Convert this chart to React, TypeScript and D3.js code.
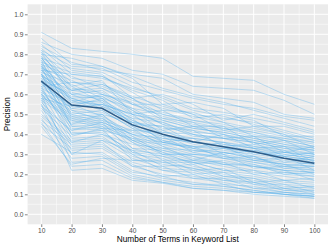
import React, { useRef, useEffect } from 'react';
import * as d3 from 'd3';

// number of terms in the keyword list (x positions)
const termCounts = [10, 20, 30, 40, 50, 60, 70, 80, 90, 100];
const yTicks = [0, 0.1, 0.2, 0.3, 0.4, 0.5, 0.6, 0.7, 0.8, 0.9, 1.0];

// average precision over all keyword lists
const meanPrecision = [0.666, 0.546, 0.53, 0.447, 0.4, 0.363, 0.338, 0.313, 0.28, 0.255];

// precision per keyword list (one array per list)
const precisionHigh = [
  [0.91, 0.83, 0.815, 0.8, 0.78, 0.69, 0.68, 0.67, 0.6, 0.55],
  [0.86, 0.8, 0.78, 0.72, 0.7, 0.64, 0.63, 0.62, 0.57, 0.5],
  [0.84, 0.76, 0.72, 0.7, 0.68, 0.6, 0.58, 0.56, 0.5, 0.48],
  [0.82, 0.74, 0.73, 0.66, 0.62, 0.58, 0.55, 0.53, 0.49, 0.47],
  [0.85, 0.72, 0.7, 0.58, 0.6, 0.55, 0.47, 0.5, 0.46, 0.42],
  [0.8, 0.78, 0.74, 0.68, 0.55, 0.56, 0.53, 0.44, 0.44, 0.4],
  [0.83, 0.7, 0.69, 0.62, 0.57, 0.48, 0.5, 0.47, 0.39, 0.39],
  [0.78, 0.73, 0.71, 0.64, 0.58, 0.52, 0.49, 0.45, 0.41, 0.37],
  [0.81, 0.68, 0.66, 0.55, 0.55, 0.5, 0.42, 0.44, 0.4, 0.33],
  [0.76, 0.71, 0.69, 0.61, 0.52, 0.51, 0.46, 0.39, 0.38, 0.35],
];

const precisionUpper = [
  [0.79, 0.66, 0.64, 0.58, 0.5, 0.47, 0.44, 0.41, 0.38, 0.36],
  [0.77, 0.64, 0.67, 0.5, 0.52, 0.44, 0.44, 0.35, 0.37, 0.3],
  [0.75, 0.69, 0.63, 0.55, 0.49, 0.45, 0.43, 0.4, 0.37, 0.34],
  [0.74, 0.62, 0.65, 0.58, 0.48, 0.46, 0.38, 0.39, 0.31, 0.34],
  [0.73, 0.67, 0.6, 0.56, 0.47, 0.43, 0.41, 0.38, 0.35, 0.33],
  [0.72, 0.6, 0.62, 0.52, 0.42, 0.44, 0.4, 0.33, 0.34, 0.26],
  [0.8, 0.63, 0.61, 0.53, 0.45, 0.42, 0.39, 0.37, 0.34, 0.32],
  [0.71, 0.65, 0.58, 0.45, 0.44, 0.36, 0.4, 0.36, 0.33, 0.32],
  [0.7, 0.58, 0.59, 0.5, 0.46, 0.4, 0.38, 0.36, 0.29, 0.31],
  [0.78, 0.61, 0.57, 0.49, 0.43, 0.42, 0.34, 0.35, 0.32, 0.25],
  [0.69, 0.62, 0.6, 0.52, 0.45, 0.39, 0.38, 0.34, 0.32, 0.3],
  [0.74, 0.57, 0.56, 0.48, 0.36, 0.38, 0.36, 0.3, 0.31, 0.3],
  [0.68, 0.59, 0.58, 0.47, 0.41, 0.4, 0.35, 0.33, 0.31, 0.29],
  [0.76, 0.56, 0.55, 0.5, 0.4, 0.33, 0.36, 0.33, 0.26, 0.29],
  [0.67, 0.6, 0.54, 0.46, 0.42, 0.36, 0.34, 0.32, 0.3, 0.28],
  [0.72, 0.55, 0.57, 0.45, 0.39, 0.38, 0.3, 0.32, 0.29, 0.22],
  [0.66, 0.58, 0.53, 0.47, 0.4, 0.35, 0.33, 0.31, 0.29, 0.27],
  [0.82, 0.64, 0.56, 0.44, 0.38, 0.36, 0.34, 0.27, 0.28, 0.27],
  [0.65, 0.54, 0.55, 0.46, 0.37, 0.34, 0.32, 0.3, 0.28, 0.26],
  [0.7, 0.57, 0.52, 0.43, 0.39, 0.31, 0.33, 0.29, 0.24, 0.26],
];

const precisionMid = [
  [0.64, 0.53, 0.51, 0.44, 0.36, 0.33, 0.31, 0.28, 0.26, 0.25],
  [0.79, 0.52, 0.5, 0.37, 0.35, 0.34, 0.28, 0.29, 0.23, 0.24],
  [0.63, 0.55, 0.49, 0.41, 0.37, 0.32, 0.3, 0.27, 0.25, 0.24],
  [0.75, 0.5, 0.52, 0.43, 0.34, 0.27, 0.31, 0.28, 0.25, 0.2],
  [0.62, 0.51, 0.48, 0.4, 0.36, 0.33, 0.29, 0.26, 0.24, 0.23],
  [0.73, 0.49, 0.5, 0.39, 0.3, 0.3, 0.3, 0.23, 0.24, 0.22],
  [0.61, 0.52, 0.47, 0.42, 0.35, 0.31, 0.28, 0.26, 0.23, 0.22],
  [0.77, 0.48, 0.49, 0.33, 0.32, 0.29, 0.25, 0.25, 0.2, 0.21],
  [0.6, 0.5, 0.46, 0.4, 0.34, 0.3, 0.28, 0.25, 0.22, 0.21],
  [0.71, 0.47, 0.48, 0.37, 0.31, 0.25, 0.27, 0.24, 0.22, 0.17],
  [0.59, 0.49, 0.45, 0.39, 0.33, 0.29, 0.26, 0.24, 0.21, 0.2],
  [0.68, 0.46, 0.47, 0.36, 0.27, 0.27, 0.26, 0.2, 0.21, 0.19],
  [0.58, 0.48, 0.44, 0.38, 0.32, 0.28, 0.25, 0.22, 0.2, 0.19],
  [0.66, 0.45, 0.46, 0.31, 0.29, 0.26, 0.22, 0.22, 0.17, 0.18],
  [0.57, 0.47, 0.43, 0.37, 0.31, 0.27, 0.24, 0.21, 0.19, 0.17],
];

const precisionLow = [
  [0.74, 0.44, 0.45, 0.36, 0.3, 0.26, 0.22, 0.2, 0.17, 0.16],
  [0.62, 0.43, 0.42, 0.3, 0.28, 0.22, 0.23, 0.16, 0.17, 0.13],
  [0.7, 0.42, 0.44, 0.33, 0.29, 0.24, 0.21, 0.19, 0.16, 0.15],
  [0.56, 0.41, 0.4, 0.32, 0.24, 0.25, 0.19, 0.18, 0.13, 0.14],
  [0.67, 0.4, 0.41, 0.31, 0.26, 0.23, 0.2, 0.18, 0.15, 0.14],
  [0.53, 0.39, 0.43, 0.27, 0.27, 0.2, 0.21, 0.15, 0.15, 0.11],
  [0.64, 0.38, 0.39, 0.29, 0.25, 0.23, 0.19, 0.17, 0.14, 0.13],
  [0.5, 0.37, 0.38, 0.3, 0.22, 0.21, 0.17, 0.16, 0.12, 0.12],
  [0.61, 0.36, 0.37, 0.28, 0.23, 0.22, 0.18, 0.16, 0.13, 0.12],
  [0.47, 0.35, 0.36, 0.24, 0.24, 0.18, 0.18, 0.13, 0.13, 0.1],
  [0.58, 0.34, 0.35, 0.26, 0.22, 0.19, 0.17, 0.15, 0.12, 0.11],
  [0.45, 0.33, 0.34, 0.25, 0.19, 0.2, 0.15, 0.14, 0.11, 0.1],
  [0.55, 0.32, 0.33, 0.24, 0.2, 0.18, 0.16, 0.13, 0.11, 0.1],
  [0.4, 0.31, 0.3, 0.21, 0.19, 0.15, 0.15, 0.11, 0.11, 0.09],
  [0.52, 0.3, 0.31, 0.22, 0.18, 0.16, 0.14, 0.12, 0.1, 0.09],
  [0.48, 0.28, 0.29, 0.2, 0.17, 0.15, 0.14, 0.12, 0.1, 0.09],
  [0.6, 0.26, 0.27, 0.19, 0.16, 0.14, 0.13, 0.11, 0.1, 0.08],
  [0.46, 0.24, 0.25, 0.18, 0.16, 0.13, 0.12, 0.11, 0.1, 0.09],
  [0.55, 0.22, 0.23, 0.17, 0.155, 0.13, 0.12, 0.1, 0.09, 0.08],
];

const precisionFlat = [
  [0.88, 0.75, 0.74, 0.69, 0.63, 0.59, 0.56, 0.52, 0.48, 0.44],
  [0.72, 0.7, 0.68, 0.63, 0.59, 0.53, 0.51, 0.48, 0.45, 0.41],
  [0.64, 0.66, 0.65, 0.59, 0.54, 0.5, 0.48, 0.46, 0.42, 0.38],
  [0.78, 0.62, 0.63, 0.57, 0.53, 0.49, 0.46, 0.43, 0.4, 0.37],
  [0.69, 0.56, 0.6, 0.55, 0.51, 0.47, 0.45, 0.42, 0.39, 0.36],
  [0.58, 0.54, 0.58, 0.53, 0.5, 0.46, 0.43, 0.41, 0.37, 0.34],
  [0.81, 0.6, 0.59, 0.51, 0.48, 0.44, 0.42, 0.39, 0.36, 0.33],
  [0.66, 0.53, 0.55, 0.5, 0.47, 0.43, 0.41, 0.38, 0.35, 0.32],
  [0.75, 0.58, 0.54, 0.48, 0.46, 0.41, 0.4, 0.37, 0.34, 0.31],
  [0.6, 0.45, 0.5, 0.46, 0.44, 0.4, 0.38, 0.36, 0.33, 0.3],
  [0.7, 0.44, 0.43, 0.42, 0.41, 0.38, 0.36, 0.34, 0.31, 0.29],
  [0.54, 0.42, 0.46, 0.4, 0.38, 0.36, 0.35, 0.33, 0.3, 0.28],
  [0.63, 0.4, 0.42, 0.38, 0.36, 0.34, 0.33, 0.31, 0.29, 0.27],
  [0.49, 0.36, 0.4, 0.35, 0.33, 0.32, 0.31, 0.29, 0.27, 0.25],
  [0.57, 0.3, 0.37, 0.32, 0.3, 0.3, 0.29, 0.27, 0.25, 0.24],
  [0.44, 0.25, 0.28, 0.27, 0.26, 0.26, 0.25, 0.24, 0.22, 0.21],
];

const App = () => {
  const svgRef = useRef<SVGSVGElement>(null);

  useEffect(() => {
    const w = 332;
    const h = 249;
    const left = 27.6;
    const right = 328;
    const top = 4.3;
    const bottom = 224.3;

    const svg = d3.select(svgRef.current);
    svg.selectAll('*').remove();

    const x = d3.scaleLinear().domain([5.5, 104.5]).range([left, right]);
    const y = d3.scaleLinear().domain([-0.05, 1.05]).range([bottom, top]);

    svg
      .append('rect')
      .attr('x', left)
      .attr('y', top)
      .attr('width', right - left)
      .attr('height', bottom - top)
      .attr('fill', '#EBEBEB');

    // minor grid
    const xMinor = d3.range(15, 100, 10);
    const yMinor = d3.range(0.05, 1, 0.1);
    svg
      .append('g')
      .selectAll('line')
      .data(xMinor)
      .join('line')
      .attr('x1', (d) => x(d))
      .attr('x2', (d) => x(d))
      .attr('y1', top)
      .attr('y2', bottom)
      .attr('stroke', '#fff')
      .attr('stroke-width', 0.5);
    svg
      .append('g')
      .selectAll('line')
      .data(yMinor)
      .join('line')
      .attr('y1', (d) => y(d))
      .attr('y2', (d) => y(d))
      .attr('x1', left)
      .attr('x2', right)
      .attr('stroke', '#fff')
      .attr('stroke-width', 0.5);

    // major grid
    svg
      .append('g')
      .selectAll('line')
      .data(termCounts)
      .join('line')
      .attr('x1', (d) => x(d))
      .attr('x2', (d) => x(d))
      .attr('y1', top)
      .attr('y2', bottom)
      .attr('stroke', '#fff')
      .attr('stroke-width', 1);
    svg
      .append('g')
      .selectAll('line')
      .data(yTicks)
      .join('line')
      .attr('y1', (d) => y(d))
      .attr('y2', (d) => y(d))
      .attr('x1', left)
      .attr('x2', right)
      .attr('stroke', '#fff')
      .attr('stroke-width', 1);

    const line = d3
      .line<number>()
      .x((d, i) => x(termCounts[i]))
      .y((d) => y(d));

    const allLists = [
      ...precisionHigh,
      ...precisionUpper,
      ...precisionMid,
      ...precisionLow,
      ...precisionFlat,
    ];

    svg
      .append('g')
      .selectAll('path')
      .data(allLists)
      .join('path')
      .attr('d', (d) => line(d))
      .attr('fill', 'none')
      .attr('stroke', '#56B1EC')
      .attr('stroke-opacity', 0.6)
      .attr('stroke-width', 0.6);

    svg
      .append('path')
      .attr('d', line(meanPrecision))
      .attr('fill', 'none')
      .attr('stroke', '#2D5E8B')
      .attr('stroke-width', 1.5);

    // axes
    const xAxis = d3
      .axisBottom(x)
      .tickValues(termCounts)
      .tickSize(2.7)
      .tickPadding(1.5)
      .tickFormat((d) => String(d));
    const gx = svg.append('g').attr('transform', `translate(0,${bottom})`).call(xAxis);
    const yAxis = d3
      .axisLeft(y)
      .tickValues(yTicks)
      .tickSize(2.7)
      .tickPadding(1.5)
      .tickFormat(d3.format('.1f'));
    const gy = svg.append('g').attr('transform', `translate(${left},0)`).call(yAxis);

    [gx, gy].forEach((g) => {
      g.select('.domain').remove();
      g.selectAll('.tick line').attr('stroke', '#333333').attr('stroke-width', 0.6);
      g.selectAll('.tick text')
        .attr('fill', '#4D4D4D')
        .style('font-family', '"Liberation Sans", Arial, sans-serif')
        .style('font-size', '6.6px');
    });

    svg
      .append('text')
      .attr('x', (left + right) / 2)
      .attr('y', 242)
      .attr('text-anchor', 'middle')
      .style('font-family', '"Liberation Sans", Arial, sans-serif')
      .style('font-size', '8.3px')
      .attr('fill', '#000')
      .text('Number of Terms in Keyword List');

    svg
      .append('text')
      .attr('transform', `translate(10,${(top + bottom) / 2}) rotate(-90)`)
      .attr('text-anchor', 'middle')
      .style('font-family', '"Liberation Sans", Arial, sans-serif')
      .style('font-size', '8.3px')
      .attr('fill', '#000')
      .text('Precision');

    svg.attr('width', w).attr('height', h);
  }, []);

  return (
    <svg
      ref={svgRef}
      width={332}
      height={249}
      style={{ position: 'absolute', left: 0, top: 0, background: '#fff' }}
    ></svg>
  );
};

export default App;
